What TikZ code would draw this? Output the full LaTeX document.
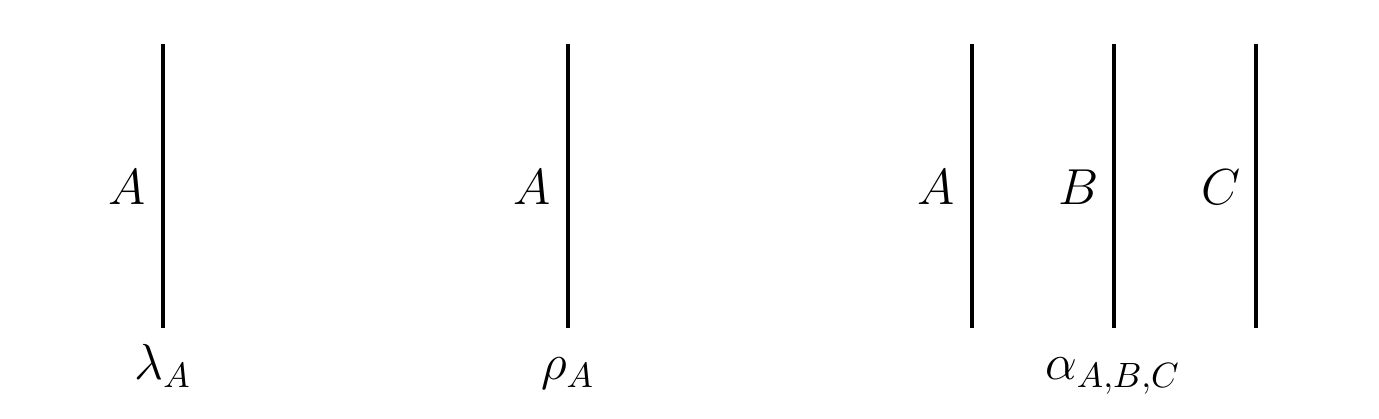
\documentclass[tikz,border=0pt]{standalone}
\usepackage{amsmath,amssymb}
\usepackage{tikz}
\usetikzlibrary{positioning}

\begin{document}
\begin{tikzpicture}[x=1cm,y=1cm,line cap=butt,
  strand/.style={line width=1pt,black},
  obj/.style={font=\fontsize{14}{16}\selectfont,inner sep=0pt},
  mor/.style={font=\fontsize{14}{16}\selectfont,inner sep=0pt,anchor=base}]
\useasboundingbox (0,0) rectangle (13.79,4.19);
% unitors
\coordinate (lt) at (1.63,3.75);
\coordinate (lb) at (1.63,0.91);
\draw[strand] (lt) -- (lb);
\node[obj] (lA) at (1.27,2.32) {$A$};
\node[mor] (lam) at (1.63,0.39) {$\lambda_A$};
\coordinate (rt) at (5.68,3.75);
\coordinate (rb) at (5.68,0.91);
\draw[strand] (rt) -- (rb);
\node[obj] (rA) at (5.32,2.32) {$A$};
\node[mor] (rho) at (5.68,0.39) {$\rho_A$};
% associator
\coordinate (at) at (9.72,3.75);
\coordinate (ab) at (9.72,0.91);
\draw[strand] (at) -- (ab);
\node[obj] (aA) at (9.36,2.32) {$A$};
\coordinate (bt) at (11.14,3.75);
\coordinate (bb) at (11.14,0.91);
\draw[strand] (bt) -- (bb);
\node[obj] (aB) at (10.79,2.32) {$B$};
\coordinate (ct) at (12.56,3.75);
\coordinate (cb) at (12.56,0.91);
\draw[strand] (ct) -- (cb);
\node[obj] (aC) at (12.21,2.32) {$C$};
\node[mor] (alp) at (11.13,0.39) {$\alpha_{A,B,C}$};
\end{tikzpicture}
\end{document}
